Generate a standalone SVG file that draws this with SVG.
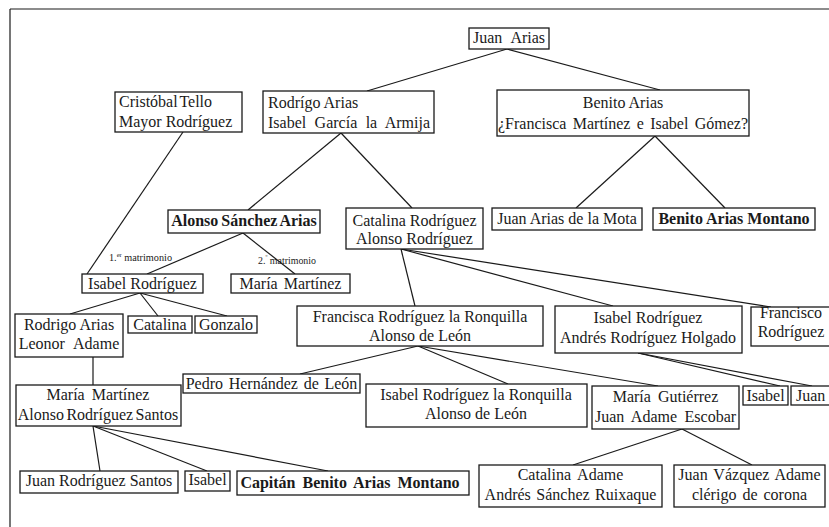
<svg xmlns="http://www.w3.org/2000/svg" width="829" height="527" viewBox="0 0 829 527">
<style>
rect{fill:#fff;stroke:#1a1a1a;stroke-width:1.3}
text{font-family:"Liberation Serif","Times New Roman",serif;font-size:16px;fill:#1a1a1a}
.c{text-anchor:middle}
.b{font-weight:bold}
.s{font-size:11px}
#connectors line,#frame line{stroke:#1a1a1a;stroke-width:1.2}
</style>
<rect x="0" y="0" width="829" height="527" style="stroke:none;fill:#fff"/>
<g id="frame">
<line x1="10" y1="9" x2="829" y2="9"/>
<line x1="10" y1="9" x2="10" y2="527"/>
</g>
<g id="connectors">
<line x1="507" y1="49" x2="367" y2="91"/>
<line x1="507" y1="49" x2="660" y2="90"/>
<line x1="183" y1="132" x2="87" y2="274"/>
<line x1="341" y1="133" x2="248" y2="210"/>
<line x1="341" y1="133" x2="412" y2="208"/>
<line x1="655" y1="136" x2="576" y2="208"/>
<line x1="655" y1="136" x2="725" y2="208"/>
<line x1="243" y1="233" x2="147" y2="274"/>
<line x1="243" y1="233" x2="295" y2="274"/>
<line x1="140" y1="293" x2="70" y2="314"/>
<line x1="140" y1="293" x2="158" y2="316"/>
<line x1="140" y1="293" x2="227" y2="316"/>
<line x1="401" y1="249" x2="415" y2="306"/>
<line x1="401" y1="249" x2="613" y2="306"/>
<line x1="401" y1="249" x2="771" y2="307"/>
<line x1="93" y1="357" x2="93" y2="385"/>
<line x1="418" y1="346" x2="300" y2="374"/>
<line x1="418" y1="346" x2="508" y2="384"/>
<line x1="418" y1="346" x2="658" y2="386"/>
<line x1="638" y1="353" x2="780" y2="386"/>
<line x1="638" y1="353" x2="812" y2="386"/>
<line x1="93" y1="426" x2="100" y2="471"/>
<line x1="93" y1="426" x2="207" y2="471"/>
<line x1="93" y1="426" x2="328" y2="471"/>
<line x1="682" y1="429" x2="573" y2="465"/>
<line x1="682" y1="429" x2="752" y2="465"/>
</g>
<g id="labels">
<text class="s" x="109" y="261" textLength="63" lengthAdjust="spacingAndGlyphs">1.<tspan font-size="7" dy="-4">er</tspan><tspan dy="4"> matrimonio</tspan></text>
<text class="s" x="258" y="264" textLength="58" lengthAdjust="spacingAndGlyphs">2.<tspan font-size="7" dy="-4">º</tspan><tspan dy="4"> matrimonio</tspan></text>
</g>
<g id="n-juan-arias"><rect x="469" y="28" width="80" height="21"/><text class="c" x="509" y="43" word-spacing="5">Juan Arias</text></g>
<g id="n-cristobal"><rect x="115" y="92" width="127" height="40"/><text x="119" y="107" word-spacing="-2">Cristóbal Tello</text><text x="119" y="127">Mayor Rodríguez</text></g>
<g id="n-rodrigo-arias"><rect x="263" y="91" width="171" height="42"/><text x="268" y="108">Rodrígo Arias</text><text x="268" y="128" word-spacing="4.4">Isabel García la Armija</text></g>
<g id="n-benito-arias"><rect x="497" y="90" width="252" height="46"/><text class="c" x="623" y="108">Benito Arias</text><text class="c" x="623" y="129" word-spacing="2.3">¿Francisca Martínez e Isabel Gómez?</text></g>
<g id="n-alonso-sanchez"><rect x="168" y="210" width="152" height="23"/><text class="c b" x="244" y="226" word-spacing="-1">Alonso Sánchez Arias</text></g>
<g id="n-catalina-rodriguez"><rect x="346" y="208" width="137" height="41"/><text class="c" x="414.5" y="226">Catalina Rodríguez</text><text class="c" x="414.5" y="244">Alonso Rodríguez</text></g>
<g id="n-juan-arias-mota"><rect x="492" y="208" width="150" height="22"/><text class="c" x="567" y="224">Juan Arias de la Mota</text></g>
<g id="n-benito-montano"><rect x="653" y="208" width="162" height="22"/><text class="c b" x="734" y="224">Benito Arias Montano</text></g>
<g id="n-isabel-rodriguez"><rect x="82" y="274" width="121" height="19"/><text class="c" x="142.5" y="289">Isabel Rodríguez</text></g>
<g id="n-maria-martinez"><rect x="231" y="274" width="119" height="19"/><text class="c" x="290.5" y="289" word-spacing="2">María Martínez</text></g>
<g id="n-rodrigo-leonor"><rect x="15" y="314" width="108" height="43"/><text class="c" x="69" y="330">Rodrigo Arias</text><text class="c" x="69" y="349" word-spacing="5">Leonor Adame</text></g>
<g id="n-catalina"><rect x="128" y="316" width="64" height="17"/><text class="c" x="160" y="330">Catalina</text></g>
<g id="n-gonzalo"><rect x="195" y="316" width="62" height="17"/><text class="c" x="226" y="330">Gonzalo</text></g>
<g id="n-francisca"><rect x="297" y="306" width="246" height="40"/><text class="c" x="420" y="322">Francisca Rodríguez la Ronquilla</text><text class="c" x="420" y="341">Alonso de León</text></g>
<g id="n-isabel-andres"><rect x="555" y="306" width="187" height="47"/><text class="c" x="648" y="323">Isabel Rodríguez</text><text class="c" x="648" y="343">Andrés Rodríguez Holgado</text></g>
<g id="n-francisco"><rect x="751" y="307" width="82" height="39"/><text class="c" x="791" y="318">Francisco</text><text class="c" x="791" y="337">Rodríguez</text></g>
<g id="n-pedro"><rect x="183" y="374" width="177" height="19"/><text class="c" x="271.5" y="389" word-spacing="1.7">Pedro Hernández de León</text></g>
<g id="n-isabel-ronquilla"><rect x="366" y="384" width="221" height="43"/><text class="c" x="476" y="400">Isabel Rodríguez la Ronquilla</text><text class="c" x="476" y="419">Alonso de León</text></g>
<g id="n-maria-gutierrez"><rect x="592" y="386" width="147" height="43"/><text class="c" x="665.5" y="402" word-spacing="3">María Gutiérrez</text><text class="c" x="665.5" y="422" word-spacing="3.5">Juan Adame Escobar</text></g>
<g id="n-isabel-small"><rect x="743" y="386" width="45" height="19"/><text class="c" x="765.5" y="401">Isabel</text></g>
<g id="n-juan-small"><rect x="791" y="386" width="45" height="19"/><text x="796" y="401">Juan</text></g>
<g id="n-maria-alonso-santos"><rect x="16" y="385" width="165" height="41"/><text class="c" x="98" y="400" word-spacing="3">María Martínez</text><text class="c" x="98" y="420" word-spacing="-1.5">Alonso Rodríguez Santos</text></g>
<g id="n-juan-rodriguez-santos"><rect x="20" y="471" width="158" height="22"/><text class="c" x="99" y="486">Juan Rodríguez Santos</text></g>
<g id="n-isabel-2"><rect x="185" y="471" width="45" height="20"/><text class="c" x="207.5" y="485">Isabel</text></g>
<g id="n-capitan"><rect x="237" y="471" width="232" height="24"/><text class="c b" x="350" y="488" word-spacing="3">Capitán Benito Arias Montano</text></g>
<g id="n-catalina-adame"><rect x="479" y="465" width="183" height="42"/><text class="c" x="570.5" y="480" word-spacing="3">Catalina Adame</text><text class="c" x="570.5" y="500" word-spacing="1.5">Andrés Sánchez Ruixaque</text></g>
<g id="n-juan-vazquez"><rect x="674" y="465" width="151" height="42"/><text class="c" x="749.5" y="480" word-spacing="2">Juan Vázquez Adame</text><text class="c" x="749.5" y="500" word-spacing="2">clérigo de corona</text></g>
</svg>
